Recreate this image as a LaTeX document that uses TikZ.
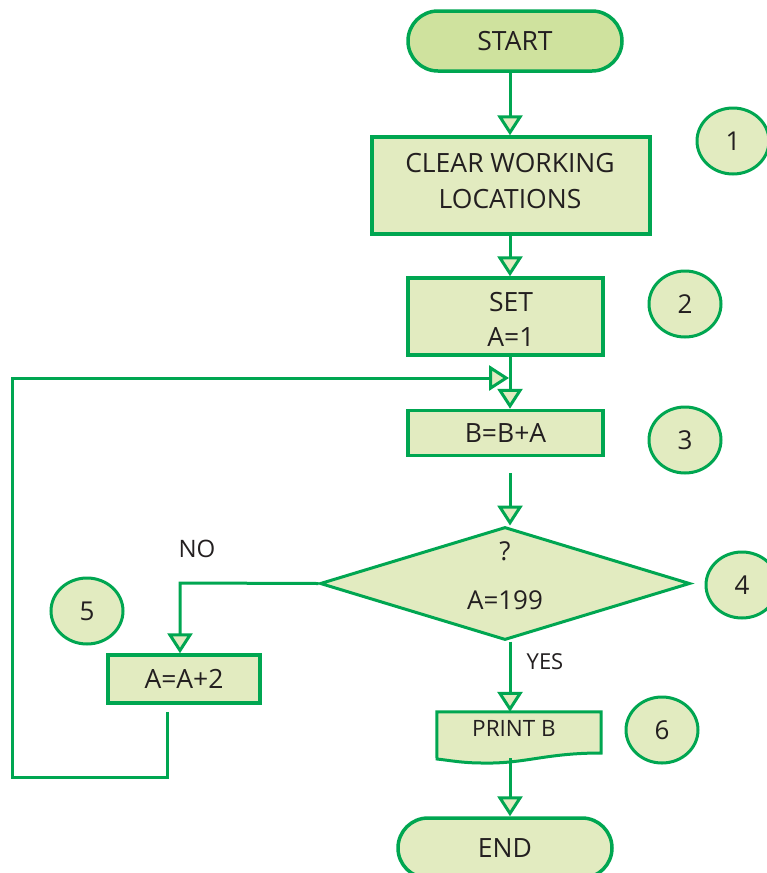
\documentclass[tikz,border=0pt]{standalone}
\usepackage{fontspec}
\setmainfont{Open Sans}
\usetikzlibrary{arrows.meta,shapes.misc,shapes.geometric}
\definecolor{edge}{RGB}{0,166,81}
\definecolor{boxfill}{RGB}{226,235,192}
\definecolor{termfill}{RGB}{207,226,158}
\definecolor{ink}{RGB}{35,31,32}
\tikzset{
  box/.style={draw=edge, line width=3.5pt, fill=boxfill, text=ink, inner sep=0pt,
    font=\fontsize{26.5}{36}\selectfont, align=center},
  term/.style={box, rounded rectangle, minimum width=214pt, minimum height=60pt},
  numc/.style={ellipse, draw=edge, line width=3pt, fill=boxfill, text=ink,
    minimum width=72pt, minimum height=66pt, inner sep=0pt, font=\fontsize{26}{30}\selectfont},
  lbl/.style={text=ink, inner sep=0pt, font=\fontsize{26}{30}\selectfont},
  flow/.style={draw=edge, line width=3pt,
    -{Triangle[width=25pt,length=20pt,fill=boxfill]}},
  wire/.style={draw=edge, line width=3pt}
}
\begin{document}
\begin{tikzpicture}[x=1pt,y=-1pt]
\useasboundingbox (0,0) rectangle (767,873);
\fill[white] (0,0) rectangle (767,873);

% main column
\coordinate (ax) at (510,0);

% process steps
\node[term, fill=termfill] (start) at (515,41) {START};
\node[box, minimum width=278pt, minimum height=97pt] (clear) at (511,185.5) {};
\node[box, draw=none, fill=none] (cleartxt) at (510,181) {CLEAR WORKING\\LOCATIONS};
\node[box, minimum width=195pt, minimum height=77pt] (set) at (505.5,316.5) {};
\node[box, draw=none, fill=none, font=\fontsize{26.5}{35}\selectfont] (settxt) at (511,319) {SET\\A=1};
\node[box, minimum width=195pt, minimum height=45pt] (bba) at (505.5,433) {B=B+A};
\node[diamond, draw=edge, line width=3pt, fill=boxfill, inner sep=0pt,
  minimum width=370pt, minimum height=113pt] (dec) at (505,583.5) {};
\node[lbl] (qm) at (505,551) {?};
\node[lbl] (cond) at (505,600) {A=199};
\node[box, minimum width=152pt, minimum height=48pt] (inc) at (184,679) {A=A+2};

% document shape for the output step
\node[inner sep=0pt, minimum width=164pt, minimum height=48pt] (print) at (519,736) {};
\draw[draw=edge, line width=3pt, fill=boxfill, line join=miter]
  (print.north west) -- (print.north east) -- (601,753)
  .. controls (545,753) and (525,764) .. (482,763)
  .. controls (462,763) and (447,760) .. (437,759) -- cycle;
\node[lbl, font=\fontsize{22.5}{26}\selectfont] (printtxt) at (514,728) {PRINT B};

\node[term] (end) at (505,848) {END};

% step numbers
\node[numc] (n1) at (733,141) {1};
\node[numc] (n2) at (685,304) {2};
\node[numc] (n3) at (685,440) {3};
\node[numc] (n4) at (742,585) {4};
\node[numc] (n5) at (87,611) {5};
\node[numc] (n6) at (662,730) {6};

% branch labels
\node[lbl, font=\fontsize{24}{28}\selectfont] (no) at (197,549) {NO};
\node[lbl, font=\fontsize{22}{26}\selectfont] (yes) at (545,662) {YES};

% connectors
\draw[flow] (start.south -| ax) -- (clear.north -| ax);
\draw[flow] (clear.south -| ax) -- (set.north -| ax);
\draw[flow] (set.south -| ax) -- (bba.north -| ax);
\draw[flow, shorten <=16pt] (bba.south -| ax) -- (dec.north -| ax);
\draw[flow] (dec.south -| ax) -- (print.north -| ax);
\draw[flow] (print.south -| ax) ++(0,-2) -- (end.north -| ax);

% NO branch
\coordinate (nb) at (180,583);
\draw[flow] (dec.west) -- (nb) -- (inc.north -| nb);

% loop back to B=B+A
\coordinate (c1) at (167,777);
\coordinate (c2) at (12,777);
\coordinate (c3) at (12,378);
\coordinate (join) at (509,378);
\draw[flow, shorten <=7pt] (inc.south -| c1) -- (c1) -- (c2) -- (c3) -- (join);
\end{tikzpicture}
\end{document}
